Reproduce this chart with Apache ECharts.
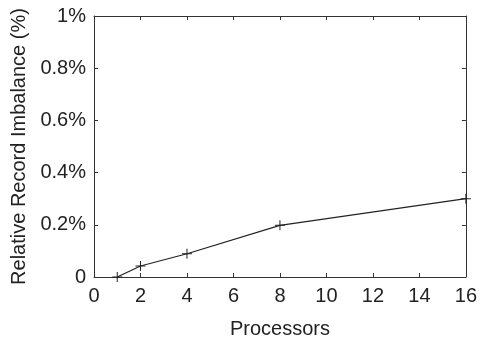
<!DOCTYPE html>
<html>
<head>
<meta charset="utf-8">
<script src="https://cdn.jsdelivr.net/npm/echarts@6/dist/echarts.min.js"></script>
<style>
  html, body { margin: 0; padding: 0; background: #fff; }
  #chart { width: 480px; height: 344px; }
</style>
</head>
<body>
<div id="chart"></div>
<script>
// processors vs relative record imbalance (%)
var processors = [1, 2, 4, 8, 16];
var imbalance = [0, 0.042, 0.089, 0.198, 0.3];
var xTicks = { min: 0, max: 16, interval: 2 };
var yTicks = { min: 0, max: 1, interval: 0.2 };

var chart = echarts.init(document.getElementById('chart'));
var font = 'Liberation Sans, Arial, sans-serif';
var axisColor = '#333';

function yLabel(v) {
    return v === 0 ? '0' : (Math.round(v * 10) / 10) + '%';
}

var data = processors.map(function (p, i) { return [p, imbalance[i]]; });

var option = {
    animation: false,
    grid: { left: 94, right: 14, top: 16, bottom: 66 },
    xAxis: [{
        type: 'value',
        min: xTicks.min, max: xTicks.max, interval: xTicks.interval,
        name: 'Processors',
        nameLocation: 'middle',
        nameGap: 42,
        nameTextStyle: { fontFamily: font, fontSize: 20, color: '#222' },
        axisLine: { onZero: false, lineStyle: { color: axisColor, width: 1 } },
        axisTick: { inside: true, length: 4, lineStyle: { color: axisColor } },
        axisLabel: { fontFamily: font, fontSize: 20, color: '#222', margin: 9 },
        splitLine: { show: false }
    }, {
        type: 'value', position: 'top',
        min: xTicks.min, max: xTicks.max, interval: xTicks.interval,
        axisLine: { onZero: false, lineStyle: { color: axisColor, width: 1 } },
        axisTick: { inside: true, length: 4, lineStyle: { color: axisColor } },
        axisLabel: { show: false },
        splitLine: { show: false }
    }],
    yAxis: [{
        type: 'value',
        min: yTicks.min, max: yTicks.max, interval: yTicks.interval,
        name: 'Relative Record Imbalance (%)',
        nameLocation: 'middle',
        nameGap: 64,
        nameTextStyle: { fontFamily: font, fontSize: 20, color: '#222' },
        axisLine: { show: true, onZero: false, lineStyle: { color: axisColor, width: 1 } },
        axisTick: { show: true, inside: true, length: 4, lineStyle: { color: axisColor } },
        axisLabel: { fontFamily: font, fontSize: 20, color: '#222', margin: 8, formatter: yLabel },
        splitLine: { show: false }
    }, {
        type: 'value', position: 'right',
        min: yTicks.min, max: yTicks.max, interval: yTicks.interval,
        axisLine: { show: true, onZero: false, lineStyle: { color: axisColor, width: 1 } },
        axisTick: { show: true, inside: true, length: 4, lineStyle: { color: axisColor } },
        axisLabel: { show: false },
        splitLine: { show: false }
    }],
    series: [{
        type: 'line',
        data: data,
        clip: false,
        symbol: 'path://M-0.1,-1 H0.1 V-0.1 H1 V0.1 H0.1 V1 H-0.1 V0.1 H-1 V-0.1 H-0.1 Z',
        symbolSize: 10,
        showAllSymbol: true,
        itemStyle: { color: '#222' },
        lineStyle: { color: '#222', width: 1.2 }
    }]
};

chart.setOption(option);
</script>
</body>
</html>
